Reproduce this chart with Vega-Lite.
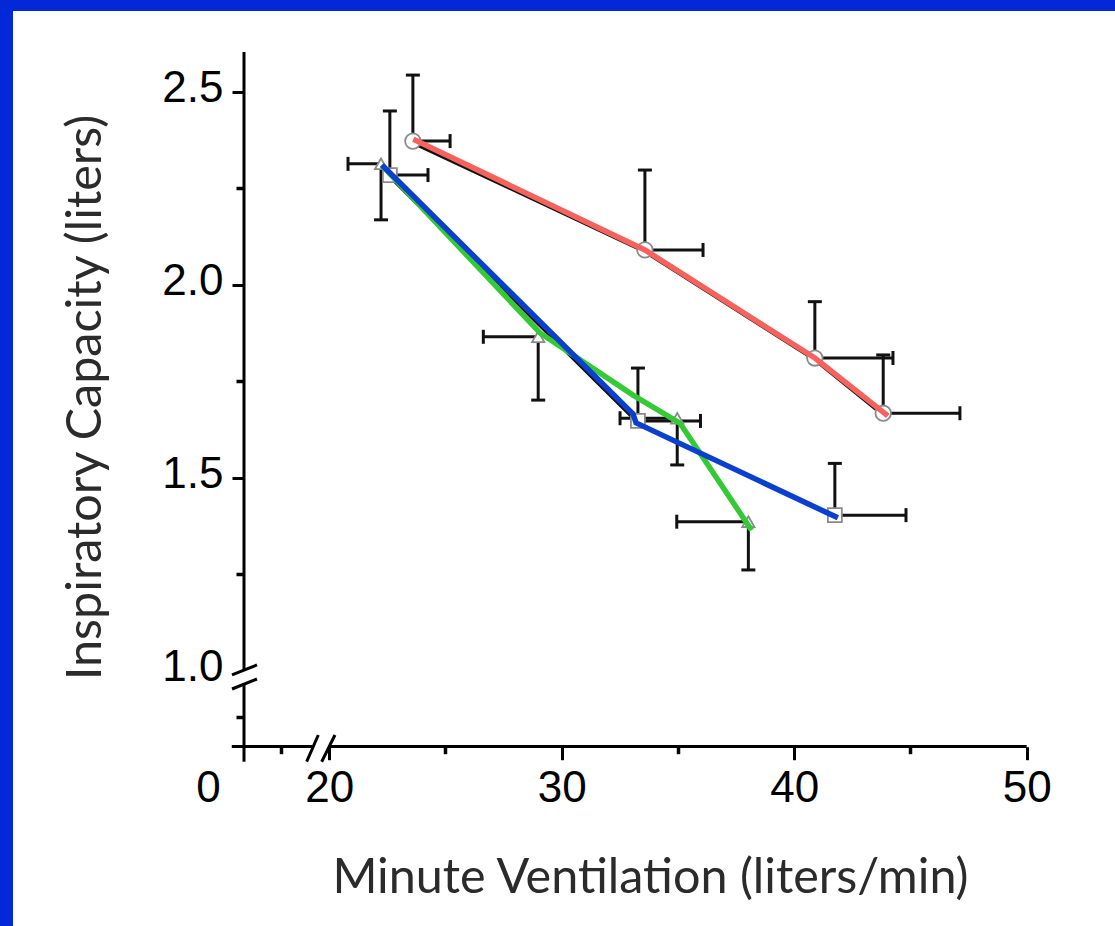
{
  "$schema": "https://vega.github.io/schema/vega-lite/v6.json",
  "width": 1102,
  "height": 915,
  "autosize": {"type": "none"},
  "padding": {"left": 13, "top": 11, "right": 0, "bottom": 0},
  "background": "#0228d8",
  "config": {"view": {"fill": "white", "stroke": null}},
  "resolve": {"axis": {"x": "independent", "y": "independent"}},
  "datasets": {
    "frame": [
      {"x": 16.336, "y": 2.603, "x2v": 16.336, "y2v": 1.002},
      {"x": 16.336, "y": 0.9655, "x2v": 16.336, "y2v": 0.7642},
      {"x": 15.81, "y": 0.8036, "x2v": 19.28, "y2v": 0.8036},
      {"x": 19.96, "y": 0.8036, "x2v": 50, "y2v": 0.8036},
      {"x": 15.82, "y": 0.989, "x2v": 16.895, "y2v": 1.0148},
      {"x": 15.82, "y": 0.9526, "x2v": 16.895, "y2v": 0.9785},
      {"x": 19.032, "y": 0.7642, "x2v": 19.531, "y2v": 0.8334},
      {"x": 19.677, "y": 0.7642, "x2v": 20.249, "y2v": 0.8334}
    ],
    "pts": [
      {"group": "circle", "x": 23.60, "y": 2.372, "xe": 25.20, "ye": 2.543},
      {"group": "circle", "x": 33.58, "y": 2.090, "xe": 36.08, "ye": 2.297},
      {"group": "circle", "x": 40.89, "y": 1.810, "xe": 44.25, "ye": 1.956},
      {"group": "circle", "x": 43.83, "y": 1.667, "xe": 47.13, "ye": 1.818},
      {"group": "square", "x": 22.61, "y": 2.284, "xe": 24.25, "ye": 2.450},
      {"group": "square", "x": 33.28, "y": 1.647, "xe": 35.97, "ye": 1.784},
      {"group": "square", "x": 41.75, "y": 1.403, "xe": 44.81, "ye": 1.537},
      {"group": "triangle", "x": 22.23, "y": 2.313, "xe": 20.81, "ye": 2.168},
      {"group": "triangle", "x": 28.99, "y": 1.865, "xe": 26.63, "ye": 1.701},
      {"group": "triangle", "x": 34.97, "y": 1.654, "xe": 32.51, "ye": 1.533},
      {"group": "triangle", "x": 38.03, "y": 1.386, "xe": 34.95, "ye": 1.261}
    ],
    "overlay": [
      {"series": "red", "x": 23.62, "y": 2.377},
      {"series": "red", "x": 33.58, "y": 2.090},
      {"series": "red", "x": 40.89, "y": 1.810},
      {"series": "red", "x": 44.03, "y": 1.660},
      {"series": "green", "x": 22.26, "y": 2.310},
      {"series": "green", "x": 29.07, "y": 1.875},
      {"series": "green", "x": 33.07, "y": 1.714},
      {"series": "green", "x": 35.09, "y": 1.641},
      {"series": "green", "x": 38.17, "y": 1.364},
      {"series": "blue", "x": 22.27, "y": 2.310},
      {"series": "blue", "x": 33.07, "y": 1.665},
      {"series": "blue", "x": 33.20, "y": 1.642},
      {"series": "blue", "x": 41.88, "y": 1.396}
    ]
  },
  "layer": [
    {
      "data": {"name": "frame"},
      "mark": {"type": "rule", "color": "black", "strokeWidth": 3},
      "encoding": {
        "x": {
          "field": "x", "type": "quantitative",
          "scale": {"domain": [6.40, 53.80], "nice": false, "zero": false},
          "axis": {
            "orient": "bottom", "offset": -179.3, "domain": false, "grid": false,
            "values": [14.79, 20, 30, 40, 50],
            "labelExpr": "datum.value < 15 ? '0' : datum.label",
            "tickSize": 13,
            "tickOpacity": {"condition": {"test": "datum.value < 15", "value": 0}, "value": 1},
            "tickColor": "black", "tickWidth": 3,
            "labelFont": "Liberation Sans", "labelFontSize": 44, "labelColor": "black",
            "labelPadding": 7, "labelOverlap": false, "labelFlush": false, "labelBound": false,
            "title": "Minute Ventilation (liters/min)",
            "titleFont": "Lato", "titleFontSize": 48.5, "titleFontWeight": "normal", "titleColor": "#2b2b2b",
            "titleX": 637, "titleY": 146, "titleAlign": "center", "titleBaseline": "alphabetic"
          }
        },
        "y": {
          "field": "y", "type": "quantitative",
          "scale": {"domain": [0.3386, 2.709], "nice": false, "zero": false},
          "axis": {
            "orient": "left", "offset": -231, "domain": false, "grid": false,
            "values": [1.0, 1.5, 2.0, 2.5],
            "format": ".1f",
            "tickSize": 12,
            "tickOpacity": {"condition": {"test": "datum.value === 1", "value": 0}, "value": 1},
            "tickColor": "black", "tickWidth": 3,
            "labelFont": "Liberation Sans", "labelFontSize": 44, "labelColor": "black",
            "labelPadding": 9, "labelOverlap": false, "labelFlush": false, "labelBound": false,
            "labelOffset": -3,
            "title": "Inspiratory Capacity (liters)",
            "titleFont": "Lato", "titleFontSize": 48.5, "titleFontWeight": "normal", "titleColor": "#2b2b2b",
            "titleAngle": -90, "titleX": -144, "titleY": 386, "titleAlign": "center", "titleBaseline": "alphabetic"
          }
        },
        "x2": {"field": "x2v"},
        "y2": {"field": "y2v"}
      }
    },
    {
      "data": {"name": "pts"},
      "mark": {"type": "rule", "color": "#111111", "strokeWidth": 3},
      "encoding": {
        "x": {
          "field": "x", "type": "quantitative",
          "scale": {"domain": [6.40, 53.80], "nice": false, "zero": false},
          "axis": {
            "orient": "bottom", "offset": -179.3, "domain": false, "grid": false,
            "values": [17.93, 25, 35, 45], "tickSize": 7, "tickColor": "black", "tickWidth": 3.5, "tickOpacity": 1,
            "labels": false, "title": null
          }
        },
        "y": {
          "field": "y", "type": "quantitative",
          "scale": {"domain": [0.3386, 2.709], "nice": false, "zero": false},
          "axis": {
            "orient": "left", "offset": -231, "domain": false, "grid": false,
            "values": [0.88, 1.25, 1.75, 2.25], "tickSize": 8, "tickColor": "black", "tickWidth": 3.5, "tickOpacity": 1,
            "labels": false, "title": null
          }
        },
        "y2": {"field": "ye"}
      }
    },
    {
      "data": {"name": "pts"},
      "mark": {"type": "rule", "color": "#111111", "strokeWidth": 3},
      "encoding": {
        "x": {"field": "x", "type": "quantitative", "scale": {"domain": [6.40, 53.80], "nice": false, "zero": false}, "axis": null},
        "y": {"field": "y", "type": "quantitative", "scale": {"domain": [0.3386, 2.709], "nice": false, "zero": false}, "axis": null},
        "x2": {"field": "xe"}
      }
    },
    {
      "data": {"name": "pts"},
      "mark": {"type": "tick", "color": "#111111", "orient": "horizontal", "size": 14, "thickness": 3, "opacity": 1},
      "encoding": {
        "x": {"field": "x", "type": "quantitative", "scale": {"domain": [6.40, 53.80], "nice": false, "zero": false}, "axis": null},
        "y": {"field": "ye", "type": "quantitative", "scale": {"domain": [0.3386, 2.709], "nice": false, "zero": false}, "axis": null}
      }
    },
    {
      "data": {"name": "pts"},
      "mark": {"type": "tick", "color": "#111111", "orient": "vertical", "size": 14, "thickness": 3, "opacity": 1},
      "encoding": {
        "x": {"field": "xe", "type": "quantitative", "scale": {"domain": [6.40, 53.80], "nice": false, "zero": false}, "axis": null},
        "y": {"field": "y", "type": "quantitative", "scale": {"domain": [0.3386, 2.709], "nice": false, "zero": false}, "axis": null}
      }
    },
    {
      "data": {"name": "pts"},
      "transform": [{"filter": "datum.group !== 'triangle'"}],
      "mark": {"type": "line", "color": "#111111", "strokeWidth": 3, "yOffset": 2},
      "encoding": {
        "x": {"field": "x", "type": "quantitative", "scale": {"domain": [6.40, 53.80], "nice": false, "zero": false}, "axis": null},
        "y": {"field": "y", "type": "quantitative", "scale": {"domain": [0.3386, 2.709], "nice": false, "zero": false}, "axis": null},
        "detail": {"field": "group"}
      }
    },
    {
      "data": {"name": "pts"},
      "mark": {"type": "point", "fill": "white", "stroke": "#8a8a8a", "strokeWidth": 1.8, "opacity": 1, "filled": false, "fillOpacity": 1},
      "encoding": {
        "x": {"field": "x", "type": "quantitative", "scale": {"domain": [6.40, 53.80], "nice": false, "zero": false}, "axis": null},
        "y": {"field": "y", "type": "quantitative", "scale": {"domain": [0.3386, 2.709], "nice": false, "zero": false}, "axis": null},
        "shape": {"field": "group", "type": "nominal", "scale": {"domain": ["circle", "square", "triangle"], "range": ["circle", "square", "triangle-up"]}, "legend": null},
        "size": {"field": "group", "type": "nominal", "scale": {"domain": ["circle", "square", "triangle"], "range": [240, 150, 324]}, "legend": null}
      }
    },
    {
      "data": {"name": "overlay"},
      "mark": {"type": "line", "strokeWidth": 5.5, "strokeCap": "butt"},
      "encoding": {
        "x": {"field": "x", "type": "quantitative", "scale": {"domain": [6.40, 53.80], "nice": false, "zero": false}, "axis": null},
        "y": {"field": "y", "type": "quantitative", "scale": {"domain": [0.3386, 2.709], "nice": false, "zero": false}, "axis": null},
        "color": {"field": "series", "type": "nominal", "scale": {"domain": ["red", "green", "blue"], "range": ["#f8625d", "#35c936", "#0a3fd0"]}, "legend": null}
      }
    }
  ]
}
